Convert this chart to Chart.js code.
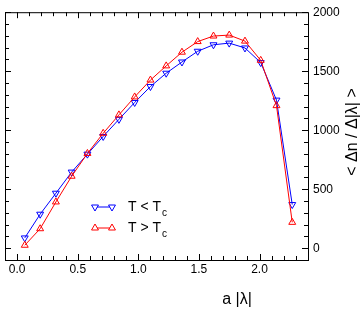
<!DOCTYPE html>
<html>
<head>
<meta charset="utf-8">
<script src="https://cdn.jsdelivr.net/npm/chart.js@4.4.1/dist/chart.umd.min.js"></script>
<style>
  html, body { margin: 0; padding: 0; background: #fff; }
  #wrap { width: 363px; height: 311px; position: relative; }
</style>
</head>
<body>
<div id="wrap"><canvas id="myChart" width="363" height="311"></canvas></div>
<script>
// a|lambda| values
const xVals = [0.063, 0.19, 0.32, 0.45, 0.58, 0.71, 0.84, 0.97, 1.10, 1.23, 1.36, 1.49, 1.62, 1.75, 1.88, 2.01, 2.14, 2.27];
// T < Tc
const belowTc = [87, 288, 466, 645, 797, 947, 1092, 1235, 1370, 1483, 1578, 1669, 1724, 1738, 1697, 1573, 1255, 370];
// T > Tc
const aboveTc = [25, 165, 392, 610, 803, 974, 1130, 1282, 1425, 1545, 1661, 1751, 1798, 1806, 1755, 1592, 1208, 219];

const xTicks = [0, 0.5, 1.0, 1.5, 2.0];
const yTicks = [0, 500, 1000, 1500, 2000];

const FONT = 'Liberation Sans, Arial, sans-serif';

function pts(ys) {
  return ys.map((y, i) => ({x: xVals[i], y: y}));
}

// box, inner ticks on all four sides, legend and axis titles
const framePlugin = {
  id: 'frame',
  afterDraw(chart) {
    const ctx = chart.ctx;
    const a = chart.chartArea;
    const xs = chart.scales.x, ys = chart.scales.y;
    ctx.save();
    ctx.strokeStyle = '#000';
    ctx.lineWidth = 1;
    ctx.strokeRect(a.left + 0.5, a.top + 0.5, a.right - a.left, a.bottom - a.top);

    ctx.beginPath();
    for (let k = 0; k <= 24; k++) {
      const v = -0.1 + k * 0.1;
      const major = Math.abs(v / 0.5 - Math.round(v / 0.5)) < 1e-6;
      const len = major ? 6 : 4;
      const px = Math.round(xs.getPixelForValue(v)) + 0.5;
      ctx.moveTo(px, a.bottom); ctx.lineTo(px, a.bottom - len);
      ctx.moveTo(px, a.top); ctx.lineTo(px, a.top + len);
    }
    for (let k = 0; k <= 20; k++) {
      const v = k * 100;
      const major = v % 500 === 0;
      const len = major ? 6 : 4;
      const py = Math.round(ys.getPixelForValue(v)) + 0.5;
      ctx.moveTo(a.left, py); ctx.lineTo(a.left + len, py);
      ctx.moveTo(a.right, py); ctx.lineTo(a.right - len, py);
    }
    ctx.stroke();

    // legend
    const rows = [
      {ds: chart.data.datasets[0], y: 207, rel: '<'},
      {ds: chart.data.datasets[1], y: 228, rel: '>'}
    ];
    rows.forEach(r => {
      ctx.strokeStyle = r.ds.borderColor;
      ctx.lineWidth = 1;
      ctx.beginPath();
      ctx.moveTo(95, r.y); ctx.lineTo(112, r.y);
      ctx.stroke();
      ctx.fillStyle = '#fff';
      [95, 112].forEach(px => {
        Chart.helpers.drawPoint(ctx, {
          pointStyle: 'triangle', radius: 4, rotation: r.ds.pointRotation,
          borderWidth: 1
        }, px, r.y);
      });
      ctx.fillStyle = '#000';
      ctx.font = '14px ' + FONT;
      ctx.textAlign = 'left';
      ctx.textBaseline = 'middle';
      const t = 'T ' + r.rel + ' T';
      ctx.fillText(t, 128, r.y);
      const w = ctx.measureText(t).width;
      ctx.font = '10px ' + FONT;
      ctx.fillText('c', 128 + w + 1, r.y + 6);
    });

    // axis titles
    ctx.fillStyle = '#000';
    ctx.font = '16px ' + FONT;
    ctx.textAlign = 'center';
    ctx.textBaseline = 'middle';
    ctx.fillText('a |\u03bb|', 237, 300);
    ctx.translate(353, 132);
    ctx.rotate(-Math.PI / 2);
    ctx.fillText('< \u0394n / \u0394|\u03bb| >', 0, 0);
    ctx.restore();
  }
};

const ctx = document.getElementById('myChart');

new Chart(ctx, {
  type: 'line',
  data: {
    datasets: [{
      label: 'T < Tc',
      data: pts(belowTc),
      borderColor: '#0000ff',
      backgroundColor: 'rgba(0,0,0,0)',
      borderWidth: 1,
      pointStyle: 'triangle',
      pointRotation: 180,
      pointRadius: 4,
      pointBorderWidth: 1,
      order: 1
    }, {
      label: 'T > Tc',
      data: pts(aboveTc),
      borderColor: '#ff0000',
      backgroundColor: 'rgba(0,0,0,0)',
      borderWidth: 1,
      pointStyle: 'triangle',
      pointRotation: 0,
      pointRadius: 4,
      pointBorderWidth: 1,
      order: 0
    }]
  },
  options: {
    responsive: false,
    animation: false,
    layout: { padding: { left: 2, top: 6, right: 0, bottom: 0 } },
    plugins: { legend: { display: false }, tooltip: { enabled: false } },
    scales: {
      x: {
        type: 'linear',
        min: -0.1, max: 2.4,
        grid: { display: false, drawTicks: false },
        border: { display: false },
        afterBuildTicks: s => { s.ticks = xTicks.map(v => ({value: v})); },
        afterFit: s => { s.height = 51; },
        ticks: {
          padding: 2,
          color: '#000',
          font: { family: FONT, size: 12 },
          callback: v => v.toFixed(1)
        }
      },
      y: {
        type: 'linear',
        position: 'right',
        min: -100, max: 2000,
        grid: { display: false, drawTicks: false },
        border: { display: false },
        afterBuildTicks: s => { s.ticks = yTicks.map(v => ({value: v})); },
        afterFit: s => { s.width = 55; },
        ticks: {
          padding: 5,
          color: '#000',
          font: { family: FONT, size: 12 },
          callback: v => String(v)
        }
      }
    }
  },
  plugins: [framePlugin]
});
</script>
</body>
</html>
